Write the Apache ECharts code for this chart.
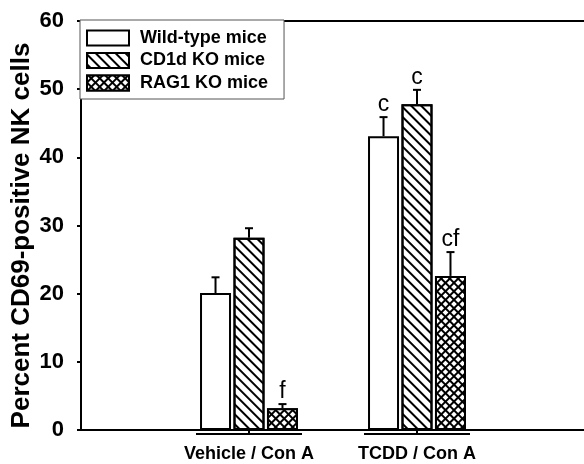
<!DOCTYPE html>
<html><head><meta charset="utf-8">
<script src="https://cdn.jsdelivr.net/npm/echarts@6/dist/echarts.min.js"></script>
<style>html,body{margin:0;padding:0;background:#fff}#c{width:584px;height:464px}</style>
</head><body><div id="c"></div>
<script>
// ---- data ----
const categories = ['', '', 'Vehicle / Con A', '', 'TCDD / Con A', '', ''];
const groupIndex = [2, 4];
const seriesNames = ['Wild-type mice', 'CD1d KO mice', 'RAG1 KO mice'];
const wildType = [20.1, 43.1];
const cd1dKO = [28.2, 47.8];
const rag1KO = [3.2, 22.6];
const wildTypeErr = [22.4, 45.9];
const cd1dKOErr = [29.6, 49.9];
const rag1KOErr = [3.8, 26.1];
const wildTypeMark = ['', 'c'];
const cd1dKOMark = ['', 'c'];
const rag1KOMark = ['f', 'cf'];
const yMin = 0, yMax = 60, yInterval = 10;

// ---- style ----
const FONT = 'Liberation Sans, Arial, Helvetica, sans-serif';
const BAR_W = 31, BAR_GAP = 0.08;
const BAR_STEP = BAR_W * (1 + BAR_GAP);

const values = [wildType, cd1dKO, rag1KO];
const errs = [wildTypeErr, cd1dKOErr, rag1KOErr];
const marks = [wildTypeMark, cd1dKOMark, rag1KOMark];

const styles = [
  { color: '#fff', borderColor: '#000', borderWidth: 2 },
  { color: '#fff', borderColor: '#000', borderWidth: 2,
    decal: { symbol: 'rect', symbolSize: 1, dashArrayX: [1, 0], dashArrayY: [2, 4.5], rotation: Math.PI / 4, color: '#000' } },
  { color: '#000', borderColor: '#000', borderWidth: 2,
    decal: { symbol: 'rect', symbolSize: 1, dashArrayX: [[4, 1.5]], dashArrayY: [4, 1.5], rotation: Math.PI / 4, color: '#fff' } }
];

const barSeries = seriesNames.map((name, s) => ({
  name, type: 'bar', barWidth: BAR_W, barGap: (BAR_GAP * 100) + '%',
  itemStyle: styles[s],
  data: groupIndex.map((g, i) => [g, values[s][i]]),
  z: 3
}));

const errData = [];
const errMarks = [];
seriesNames.forEach((n, s) => groupIndex.forEach((g, i) => {
  errData.push([g, values[s][i], errs[s][i], s]);
  errMarks.push(marks[s][i]);
}));

const errSeries = {
  type: 'custom', z: 5, silent: true,
  encode: { x: 0, y: 2 },
  data: errData,
  renderItem(params, api) {
    const cat = api.value(0), v = api.value(1), e = api.value(2), s = api.value(3);
    const b = api.coord([cat, v]);
    const t = api.coord([cat, e]);
    const x = b[0] + (s - 1) * BAR_STEP;
    const children = [
      { type: 'line', shape: { x1: x, y1: b[1], x2: x, y2: t[1] }, style: { stroke: '#000', lineWidth: 2 } },
      { type: 'line', shape: { x1: x - 4, y1: t[1], x2: x + 4, y2: t[1] }, style: { stroke: '#000', lineWidth: 2 } }
    ];
    const m = errMarks[params.dataIndex];
    if (m) children.push({ type: 'text', style: { text: m, x: x, y: t[1] - 1, align: 'center', verticalAlign: 'bottom', font: '23px ' + FONT, fill: '#000' } });
    return { type: 'group', children };
  }
};

const bracketSeries = {
  type: 'custom', z: 5, silent: true, clip: false,
  encode: { x: 0, y: 1 },
  data: groupIndex.map(g => [g, 0]),
  renderItem(params, api) {
    const p = api.coord([api.value(0), 0]);
    return { type: 'group', children: [
      { type: 'line', shape: { x1: p[0] - 53, y1: p[1] + 4, x2: p[0] + 53, y2: p[1] + 4 }, style: { stroke: '#000', lineWidth: 2 } },
      { type: 'line', shape: { x1: p[0], y1: p[1], x2: p[0], y2: p[1] + 4 }, style: { stroke: '#000', lineWidth: 2 } }
    ]};
  }
};

const chart = echarts.init(document.getElementById('c'), null, { renderer: 'canvas' });
chart.setOption({
  backgroundColor: '#fff',
  animation: false,
  grid: { left: 81, top: 21, bottom: 34, right: -1, show: false, containLabel: false, outerBoundsMode: 'none' },
  legend: {
    orient: 'vertical', left: 80, top: 20,
    icon: 'rect',
    itemWidth: 42, itemHeight: 15, itemGap: 4.5,
    borderColor: '#555', borderWidth: 1, backgroundColor: '#fff',
    padding: [9, 16, 7, 6],
    textStyle: { fontFamily: FONT, fontSize: 18, fontWeight: 'bold', color: '#000', padding: [0, 0, 0, 6], lineHeight: 18 },
    data: seriesNames
  },
  xAxis: [{
    type: 'category', data: categories, boundaryGap: false,
    axisLine: { lineStyle: { color: '#000', width: 2 } },
    axisTick: { show: false },
    splitLine: { show: false },
    axisLabel: { interval: 0, fontFamily: FONT, fontSize: 18, fontWeight: 'bold', color: '#000', margin: 15 }
  }, {
    type: 'category', data: categories, boundaryGap: false, position: 'top',
    axisLine: { lineStyle: { color: '#000', width: 2 } },
    axisTick: { show: false }, axisLabel: { show: false }, splitLine: { show: false }
  }],
  yAxis: {
    type: 'value', min: yMin, max: yMax, interval: yInterval,
    name: 'Percent CD69-positive NK cells', nameLocation: 'middle', nameGap: 46, nameMoveOverlap: false,
    nameTextStyle: { fontFamily: FONT, fontSize: 26, fontWeight: 'bold', color: '#000', padding: [0, 20, 0, 0] },
    axisLine: { show: true, lineStyle: { color: '#000', width: 2 } },
    axisTick: { show: true, inside: false, length: 4, lineStyle: { color: '#000', width: 2 } },
    splitLine: { show: false },
    axisLabel: { fontFamily: FONT, fontSize: 22, fontWeight: 'bold', color: '#000', margin: 17 }
  },
  series: [...barSeries, errSeries, bracketSeries]
});
</script>
</body></html>
